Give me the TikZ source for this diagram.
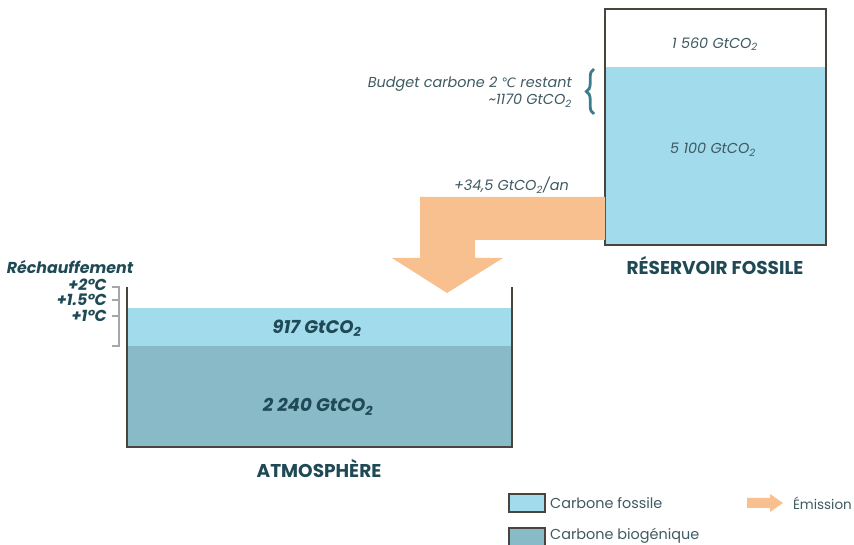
\documentclass[tikz,border=0pt]{standalone}
\usepackage{fontspec}
\setmainfont{Poppins}
\newfontfamily\symfont{DejaVu Sans}
\usetikzlibrary{decorations.pathreplacing}
\definecolor{fossile}{HTML}{A2DBEC}
\definecolor{biogen}{HTML}{88BAC8}
\definecolor{emis}{HTML}{F9C08F}
\definecolor{contour}{HTML}{4A443E}
\definecolor{titre}{HTML}{1F4A55}
\definecolor{note}{HTML}{3E5A62}
\definecolor{accolade}{HTML}{3D7C8C}
\newcommand{\gtco}{GtCO\textsubscript{2}}
\begin{document}
\begin{tikzpicture}[x=0.03cm,y=-0.03cm,
  valeur/.style={text=note, font=\fontsize{12.3}{14.5}\selectfont\itshape},
  gras/.style={text=titre, font=\fontsize{15.5}{18}\selectfont\bfseries\itshape},
  titrebox/.style={text=titre, font=\fontsize{15.8}{18}\selectfont\bfseries},
  temp/.style={text=titre, font=\fontsize{13.5}{15}\selectfont\bfseries\itshape},
  legende/.style={text=note, font=\fontsize{12.3}{14}\selectfont, anchor=west}]
  \useasboundingbox (0,0) rectangle (854,545);
  % Reservoir fossile
  \fill[fossile] (605,67) rectangle (826,245);
  \draw[contour, line width=2.5pt] (605,9) rectangle (826,245);
  \node[valeur] (restant) at (715,44) {1 560 \gtco};
  \node[valeur] (stock) at (713,150) {5 100 \gtco};
  \node[titrebox] (reservoir) at (715,266) {RÉSERVOIR FOSSILE};
  % Budget carbone
  \draw[accolade, line width=2.4pt, decorate, decoration={brace, amplitude=6.5pt}] (594,114) -- (594,69);
  \node[valeur, anchor=east, align=right, inner sep=0pt] (budget) at (572,92)
    {Budget carbone 2 {\symfont\fontsize{11}{13}\selectfont ℃} restant\\\textasciitilde 1170 \gtco};
  % Emission
  \fill[emis] (605,197) -- (420,197) -- (420,258) -- (392,258) -- (447,293)
    -- (503,258) -- (475,258) -- (475,240) -- (605,240) -- cycle;
  \node[valeur, anchor=east, inner sep=0pt] (flux) at (569,185) {+34,5 \gtco/an};
  % Atmosphere
  \fill[fossile] (127,308) rectangle (512,346);
  \fill[biogen] (127,346) rectangle (512,447);
  \draw[contour, line width=2.5pt] (127,287) -- (127,447) -- (512,447) -- (512,287);
  \node[gras] (fos) at (317,328) {917 \gtco};
  \node[gras] (bio) at (318,407) {2 240 \gtco};
  \node[titrebox] (atmo) at (319,469) {ATMOSPHÈRE};
  % Rechauffement
  \node[temp] (rech) at (70,267) {Réchauffement};
  \draw[gray!70, line width=2.1pt] (112,287) -- (119,287) -- (119,346) -- (112,346);
  \foreach \y in {300, 316} {
    \draw[gray!70, line width=1.7pt] (112,\y) -- (119,\y);
  }
  \foreach \y/\lab in {285/{+2°C}, 300/{+1.5°C}, 316/{+1°C}} {
    \node[temp, anchor=east, inner sep=0pt] at (107,\y) {\lab};
  }
  % Legende
  \draw[contour, fill=fossile, line width=1.3pt] (509,494) rectangle (545,512);
  \node[legende] (lf) at (546,503) {Carbone fossile};
  \draw[contour, fill=biogen, line width=1.3pt] (509,528) rectangle (545,546);
  \node[legende] (lb) at (546,536) {Carbone biogénique};
  \fill[emis] (747,498) -- (770,498) -- (770,494) -- (783,503) -- (770,512)
    -- (770,508) -- (747,508) -- cycle;
  \node[legende, anchor=east, inner sep=0pt, font=\fontsize{11.5}{14}\selectfont] (le) at (852,503) {Émission};
\end{tikzpicture}
\end{document}
